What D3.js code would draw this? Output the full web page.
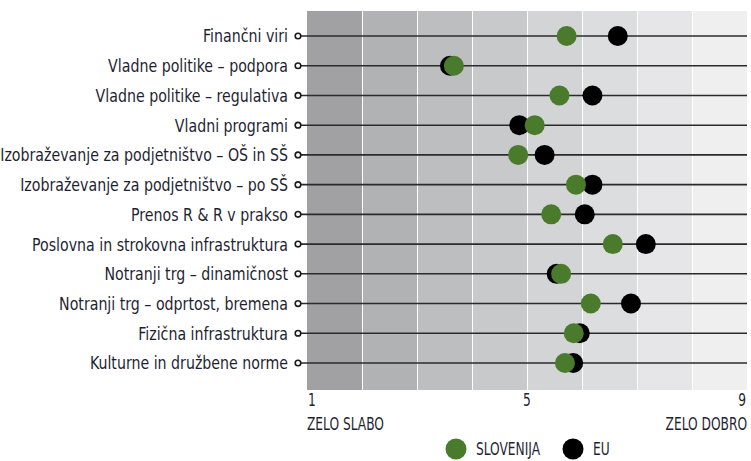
<!DOCTYPE html>
<html>
<head>
<meta charset="utf-8">
<script src="https://cdn.jsdelivr.net/npm/d3@7"></script>
<style>
  body { margin: 0; background: #fff; }
  text { font-family: "DejaVu Sans Condensed", "Liberation Sans Narrow", sans-serif; fill: #1f1f33; }
</style>
</head>
<body>
<div id="container"></div>
<script>
// DATA
const categories = [
  'Finančni viri',
  'Vladne politike – podpora',
  'Vladne politike – regulativa',
  'Vladni programi',
  'Izobraževanje za podjetništvo – OŠ in SŠ',
  'Izobraževanje za podjetništvo – po SŠ',
  'Prenos R & R v prakso',
  'Poslovna in strokovna infrastruktura',
  'Notranji trg – dinamičnost',
  'Notranji trg – odprtost, bremena',
  'Fizična infrastruktura',
  'Kulturne in družbene norme'
];
const slovenija = [5.72, 3.67, 5.59, 5.14, 4.84, 5.89, 5.44, 6.56, 5.62, 6.16, 5.85, 5.69];
const eu = [6.65, 3.60, 6.19, 4.86, 5.32, 6.19, 6.05, 7.16, 5.54, 6.89, 5.96, 5.84];
const tickValues = [1, 5, 9];
const bandShades = ['#a1a1a4', '#b0b2b4', '#bdbec0', '#c8c9cb', '#d3d4d6', '#dcdddf', '#e6e6e8', '#efefef'];

const width = 751, height = 461;
const green = '#4a7a2b';
const squeeze = 0.8; // the original uses a condensed face

const x = d3.scaleLinear([1, 9], [307, 747]);
const y = d3.scalePoint()
  .domain(d3.range(categories.length))
  .range([36, 363]);

const svg = d3.select('#container')
  .append('svg')
  .attr('width', width)
  .attr('height', height);

// background bands
svg.append('g')
  .selectAll('rect')
  .data(bandShades)
  .join('rect')
    .attr('x', (d, i) => x(1 + i) + (i > 0 ? 1 : 0))
    .attr('y', 11)
    .attr('width', (d, i) => x(2 + i) - x(1 + i) - (i > 0 ? 1 : 0))
    .attr('height', 379)
    .attr('fill', d => d);

// row lines
const rows = svg.append('g')
  .selectAll('g')
  .data(categories)
  .join('g')
    .attr('transform', (d, i) => `translate(0,${y(i)})`);

rows.append('line')
  .attr('x1', 301)
  .attr('x2', x(9))
  .attr('stroke', '#2b2b2b')
  .attr('stroke-width', 1.6);

rows.append('circle')
  .attr('cx', 298)
  .attr('r', 2.8)
  .attr('fill', '#fff')
  .attr('stroke', '#1a1a1a')
  .attr('stroke-width', 1.6);

const labels = rows.append('text')
  .attr('dy', '0.36em')
  .attr('text-anchor', 'end')
  .style('font-size', '18px')
  .text(d => d);

// fit the longest label into the space left of the lines
const maxLen = d3.max(labels.nodes(), n => n.getComputedTextLength());
const labelScale = Math.min(1, 288 / maxLen);
labels.attr('transform', `translate(288,0) scale(${labelScale},1)`);

// dots: EU underneath, Slovenija on top
svg.append('g')
  .selectAll('circle')
  .data(eu)
  .join('circle')
    .attr('cx', d => x(d))
    .attr('cy', (d, i) => y(i))
    .attr('r', 10)
    .attr('fill', '#000');

svg.append('g')
  .selectAll('circle')
  .data(slovenija)
  .join('circle')
    .attr('cx', d => x(d))
    .attr('cy', (d, i) => y(i))
    .attr('r', 10)
    .attr('fill', green);

// axis labels
function condensedText(g, px, py, anchor, txt, size) {
  return g.append('text')
    .attr('transform', `translate(${px},${py}) scale(${squeeze},1)`)
    .attr('text-anchor', anchor)
    .style('font-size', size)
    .text(txt);
}

const axis = svg.append('g');
tickValues.forEach(v => {
  const anchor = v === 1 ? 'start' : v === 9 ? 'end' : 'middle';
  condensedText(axis, x(v) + (v === 1 ? 1 : v === 9 ? -1 : 0), 406, anchor, v, '17px');
});
condensedText(axis, x(1), 430, 'start', 'ZELO SLABO', '17px');
condensedText(axis, x(9), 430, 'end', 'ZELO DOBRO', '17px');

// legend
const legendItems = [
  {label: 'SLOVENIJA', color: green, cx: 456},
  {label: 'EU', color: '#000', cx: 573}
];
const legend = svg.append('g');
legendItems.forEach(d => {
  legend.append('circle')
    .attr('cx', d.cx)
    .attr('cy', 449)
    .attr('r', 10.5)
    .attr('fill', d.color);
  condensedText(legend, d.cx + 20, 455, 'start', d.label, '17px');
});
</script>
</body>
</html>
